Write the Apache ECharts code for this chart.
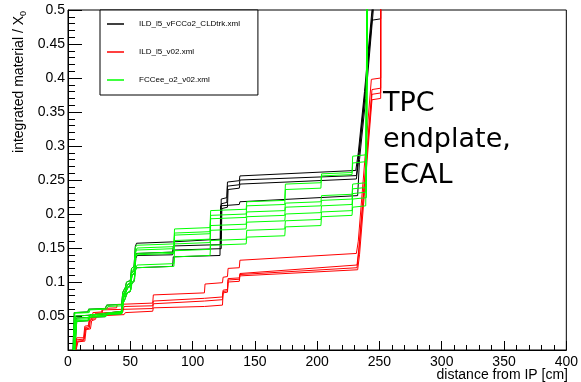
<!DOCTYPE html>
<html>
<head>
<meta charset="utf-8">
<script src="https://cdn.jsdelivr.net/npm/echarts@6/dist/echarts.min.js"></script>
<style>
  html, body { margin: 0; padding: 0; background: #fff; }
  #chart { width: 581px; height: 382px; }
</style>
</head>
<body>
<div id="chart"></div>
<script>
// Integrated material budget (in X0) versus distance from the IP, one curve per polar angle.

// ILD_l5_vFCCo2_CLDtrk.xml
const cld1 = [[4,0],[5,0.055],[16,0.056],[16.5,0.060],[30,0.061],[31,0.066],[43,0.067],[44,0.085],[46,0.092],[47,0.100],[50,0.102],[51,0.120],[53,0.123],[54,0.152],[55,0.157],[84,0.159],[84.5,0.161],[122.5,0.163],[123,0.222],[127.5,0.224],[128,0.247],[137.5,0.249],[138,0.256],[231,0.264],[233,0.29],[238,0.38],[245,0.52]];
const cld2 = [[5,0],[6,0.050],[16,0.051],[17,0.053],[30,0.054],[31,0.056],[43,0.057],[44,0.079],[46,0.087],[47.5,0.095],[50,0.098],[51,0.113],[53,0.117],[54,0.138],[55,0.142],[84,0.144],[84.5,0.153],[122.5,0.155],[123,0.215],[127.5,0.217],[128,0.241],[137.5,0.243],[138,0.250],[231.5,0.2565],[233.5,0.29],[238.5,0.38],[245.5,0.52]];
const cld3 = [[5,0],[6.5,0.047],[17,0.048],[18,0.052],[31,0.053],[32,0.055],[43.5,0.056],[44.5,0.076],[46.5,0.085],[48,0.092],[50,0.095],[51.5,0.110],[53.5,0.114],[54.5,0.135],[55.5,0.139],[84,0.140],[84.5,0.147],[123,0.149],[123.5,0.208],[128,0.210],[128.5,0.236],[137.5,0.238],[138,0.244],[231.5,0.2515],[233,0.275],[238.5,0.375],[244,0.485],[251,0.487],[251,0.52]];
const cld4 = [[5.5,0],[7,0.042],[16,0.043],[17,0.048],[30,0.049],[31,0.052],[43,0.053],[44,0.068],[46,0.076],[47,0.083],[50,0.086],[51,0.097],[53,0.101],[54,0.117],[55,0.121],[84,0.123],[84.5,0.137],[122,0.139],[122.5,0.212],[137.5,0.214],[138,0.218],[232.5,0.227],[234,0.28],[239,0.37],[246,0.52]];

// ILD_l5_v02.xml
const ild1 = [[5.5,0],[7,0.018],[12.5,0.018],[13.5,0.035],[16.5,0.036],[17,0.047],[19.5,0.048],[20,0.055],[27,0.056],[27.5,0.061],[39,0.062],[39.5,0.067],[68,0.069],[68.5,0.081],[109.5,0.084],[110,0.097],[124,0.099],[124.5,0.107],[128,0.108],[128.5,0.120],[137.5,0.121],[138,0.132],[231.5,0.142],[233,0.16],[243.5,0.398],[251,0.400],[251,0.52]];
const ild2 = [[6,0],[7.5,0.013],[12.5,0.014],[14,0.031],[17,0.032],[18,0.044],[21,0.046],[22,0.054],[44,0.056],[45,0.064],[68,0.065],[68.5,0.072],[109.5,0.076],[124,0.078],[124.5,0.088],[128,0.089],[128.5,0.105],[137.5,0.106],[138,0.1125],[232,0.125],[233.5,0.15],[244,0.383],[251,0.385],[251,0.52]];
const ild3 = [[6,0],[7,0.015],[13,0.016],[14,0.033],[16.5,0.034],[17.5,0.045],[20,0.047],[21,0.052],[27,0.053],[28,0.059],[68,0.061],[68.5,0.068],[109.5,0.072],[124,0.074],[124.5,0.086],[128,0.087],[128.5,0.103],[137.5,0.104],[138,0.111],[232,0.121],[233.5,0.145],[244,0.376],[251,0.378],[251,0.52]];
const ild4 = [[6.5,0],[8,0.012],[13.5,0.013],[14.5,0.030],[18,0.031],[19,0.043],[22,0.045],[23,0.050],[45,0.052],[46,0.055],[68,0.057],[68.5,0.062],[109.5,0.064],[124,0.066],[124.5,0.084],[128,0.085],[128.5,0.100],[137.5,0.101],[138,0.109],[232.5,0.118],[234,0.14],[244,0.368],[251,0.370],[251,0.52]];

// FCCee_o2_v02.xml
const fcc1 = [[4,0],[5,0.055],[16,0.056],[16.5,0.060],[30,0.061],[31,0.066],[43,0.067],[44,0.085],[46,0.092],[47,0.100],[50,0.102],[51,0.120],[53,0.123],[54,0.150],[55,0.154],[85,0.156],[85.5,0.178],[114,0.180],[114.5,0.205],[143,0.207],[143.5,0.218],[174,0.220],[174.5,0.244],[203,0.246],[203.5,0.259],[228,0.261],[228.5,0.285],[239,0.287],[240,0.52]];
const fcc2 = [[4.5,0],[5.5,0.054],[17,0.055],[17.5,0.059],[31,0.060],[32,0.064],[43.5,0.065],[44.5,0.082],[46.5,0.090],[48,0.097],[50.5,0.100],[51.5,0.117],[53.5,0.120],[54.5,0.146],[55.5,0.150],[85,0.152],[85.5,0.172],[114,0.174],[114.5,0.198],[143,0.200],[143.5,0.212],[174,0.214],[174.5,0.236],[203,0.238],[203.5,0.256],[228,0.258],[228.5,0.275],[239.5,0.277],[240.5,0.52]];
const fcc3 = [[5,0],[6,0.050],[16,0.051],[17,0.053],[30,0.054],[31,0.056],[43,0.057],[44,0.079],[46,0.087],[47.5,0.095],[50,0.098],[51,0.113],[53,0.117],[54,0.143],[55,0.147],[85,0.149],[85.5,0.169],[114,0.171],[114.5,0.193],[143,0.195],[143.5,0.203],[174,0.205],[174.5,0.216],[203,0.218],[203.5,0.227],[228,0.229],[228.5,0.244],[239,0.246],[240,0.52]];
const fcc4 = [[5,0],[6.5,0.047],[17,0.048],[18,0.052],[31,0.053],[32,0.055],[43.5,0.056],[44.5,0.076],[46.5,0.085],[48,0.092],[50,0.095],[51.5,0.110],[53.5,0.114],[54.5,0.139],[55.5,0.142],[85,0.144],[85.5,0.161],[114,0.163],[114.5,0.183],[143,0.185],[143.5,0.196],[174,0.198],[174.5,0.210],[203,0.212],[203.5,0.220],[228,0.222],[228.5,0.237],[239.5,0.239],[240.5,0.52]];
const fcc5 = [[5.5,0],[7,0.045],[16,0.046],[17,0.050],[30,0.051],[31,0.054],[43,0.055],[44,0.074],[46,0.083],[47,0.090],[50,0.093],[51,0.108],[53,0.112],[54,0.136],[55,0.140],[85,0.142],[85.5,0.156],[114,0.158],[114.5,0.176],[143,0.178],[143.5,0.188],[174,0.190],[174.5,0.200],[203,0.202],[203.5,0.212],[228,0.214],[228.5,0.230],[239,0.232],[240,0.52]];
const fcc6 = [[5,0],[6,0.043],[17,0.044],[18,0.049],[31,0.050],[32,0.053],[43.5,0.054],[44.5,0.070],[46.5,0.078],[48,0.085],[50.5,0.088],[51.5,0.100],[53.5,0.104],[54.5,0.121],[55.5,0.125],[85,0.127],[85.5,0.146],[114,0.148],[114.5,0.161],[143,0.163],[143.5,0.176],[174,0.178],[174.5,0.190],[203,0.192],[203.5,0.203],[228,0.205],[228.5,0.222],[239.5,0.224],[240.5,0.52]];
const fcc7 = [[5.5,0],[7,0.042],[16,0.043],[17,0.048],[30,0.049],[31,0.052],[43,0.053],[44,0.068],[46,0.076],[47,0.083],[50,0.086],[51,0.097],[53,0.101],[54,0.117],[55,0.121],[85,0.123],[85.5,0.137],[114,0.139],[114.5,0.154],[143,0.156],[143.5,0.166],[174,0.168],[174.5,0.181],[203,0.183],[203.5,0.196],[228,0.198],[228.5,0.210],[239,0.212],[240,0.52]];

const geometryNames = ['ILD_l5_vFCCo2_CLDtrk.xml', 'ILD_l5_v02.xml', 'FCCee_o2_v02.xml'];
const geometryColors = ['#000000', '#ff0000', '#00ff00'];
const geometryCurves = [
  [cld1, cld2, cld3, cld4],
  [ild1, ild2, ild3, ild4],
  [fcc1, fcc2, fcc3, fcc4, fcc5, fcc6, fcc7]
];

const xRange = [0, 400];
const yRange = [0, 0.5];
const annotationLines = ['TPC', 'endplate,', 'ECAL'];

const series = [];
geometryCurves.forEach((curves, g) => {
  curves.forEach(curve => {
    series.push({
      type: 'line',
      name: geometryNames[g],
      data: curve,
      symbol: 'none',
      silent: true,
      clip: true,
      lineStyle: { color: geometryColors[g], width: 1 },
      itemStyle: { color: geometryColors[g] }
    });
  });
});

const FONT = '"Liberation Sans", Arial, Helvetica, sans-serif';
// thin horizontal bar used as the legend sample
const LEGEND_LINE = 'path://M0,0 L17,0 L17,1.5 L0,1.5 Z';

const chart = echarts.init(document.getElementById('chart'), null, { renderer: 'canvas' });
chart.setOption({
  animation: false,
  backgroundColor: '#ffffff',
  grid: {
    left: 68, right: 13, top: 10, bottom: 32,
    show: true, borderColor: '#000', borderWidth: 1, backgroundColor: 'transparent'
  },
  xAxis: {
    type: 'value', min: xRange[0], max: xRange[1], interval: 50,
    axisLine: { show: true, onZero: false, lineStyle: { color: '#000', width: 1 } },
    axisTick: { show: true, inside: true, length: 9, lineStyle: { color: '#000' } },
    minorTick: { show: true, splitNumber: 5, length: 5, lineStyle: { color: '#000' } },
    splitLine: { show: false },
    axisLabel: { fontFamily: FONT, fontSize: 14, color: '#000', margin: 5 }
  },
  yAxis: {
    type: 'value', min: yRange[0], max: yRange[1], interval: 0.05,
    axisLine: { show: true, onZero: false, lineStyle: { color: '#000', width: 1 } },
    axisTick: { show: true, inside: true, length: 14, lineStyle: { color: '#000' } },
    minorTick: { show: true, splitNumber: 5, length: 7, lineStyle: { color: '#000' } },
    splitLine: { show: false },
    axisLabel: { fontFamily: FONT, fontSize: 14, color: '#000', margin: 3, showMinLabel: false }
  },
  legend: {
    data: geometryNames.map(n => ({ name: n, icon: LEGEND_LINE })),
    orient: 'vertical',
    left: 100, top: 10,
    itemWidth: 17, itemHeight: 8, itemGap: 20,
    padding: [10, 18, 11, 7],
    backgroundColor: '#fff',
    borderColor: '#000', borderWidth: 1,
    selectedMode: false,
    textStyle: { fontFamily: FONT, fontSize: 8, color: '#000', padding: [0, 0, 0, 10] }
  },
  graphic: [
    {
      type: 'text', x: 568, y: 375,
      style: {
        text: 'distance from IP [cm]', align: 'right', verticalAlign: 'middle',
        fontFamily: FONT, fontSize: 14, fill: '#000'
      }
    },
    {
      type: 'text', x: 19, y: 11, rotation: Math.PI / 2,
      style: {
        text: '{a|integrated material / X}{s|0}', align: 'right', verticalAlign: 'middle',
        rich: {
          a: { fontFamily: FONT, fontSize: 14, fill: '#000', lineHeight: 18, verticalAlign: 'middle' },
          s: { fontFamily: FONT, fontSize: 9, fill: '#000', lineHeight: 9, verticalAlign: 'bottom' }
        }
      }
    },
    {
      type: 'text', x: 383, y: 104,
      style: { text: annotationLines[0], verticalAlign: 'middle', fontFamily: '"DejaVu Sans", sans-serif', fontSize: 27, fill: '#000' }
    },
    {
      type: 'text', x: 383, y: 140,
      style: { text: annotationLines[1], verticalAlign: 'middle', fontFamily: '"DejaVu Sans", sans-serif', fontSize: 27, fill: '#000' }
    },
    {
      type: 'text', x: 383, y: 176,
      style: { text: annotationLines[2], verticalAlign: 'middle', fontFamily: '"DejaVu Sans", sans-serif', fontSize: 27, fill: '#000' }
    }
  ],
  series: series
});
</script>
</body>
</html>
